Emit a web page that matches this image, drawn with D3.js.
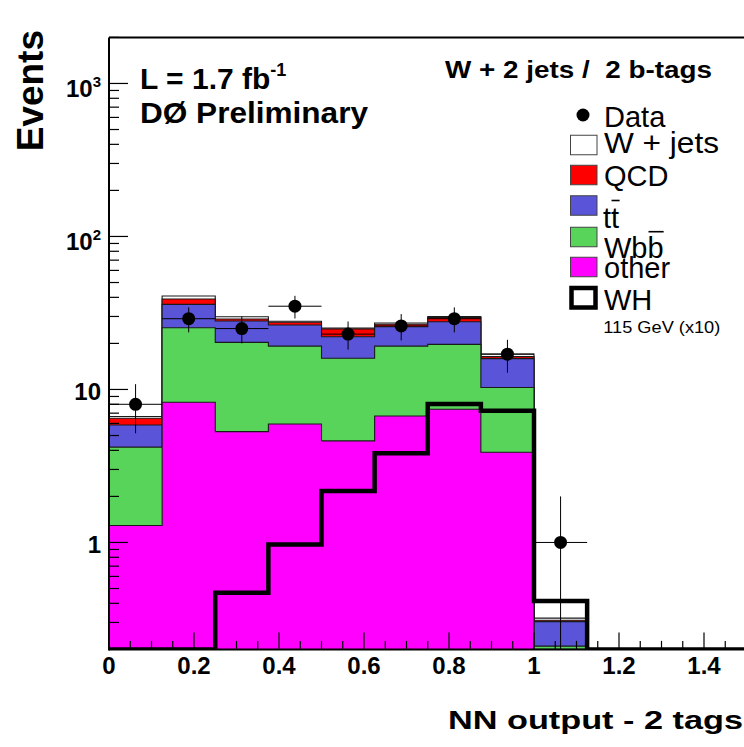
<!DOCTYPE html>
<html>
<head>
<meta charset="utf-8">
<script src="https://cdn.jsdelivr.net/npm/d3@7/dist/d3.min.js"></script>
<style>
html,body{margin:0;padding:0;background:#fff;}
svg{display:block;}
text{font-family:"Liberation Sans",Arial,sans-serif;}
</style>
</head>
<body>
<svg id="chart" width="744" height="747"></svg>
<script>
// ---------------- data ----------------
const binLow   = [0, 0.125, 0.25, 0.375, 0.5, 0.625, 0.75, 0.875, 1.0, 1.125, 1.25, 1.375];
const binWidth = 0.125;
const other = [1.29, 8.25, 5.30, 5.95, 4.61, 6.71, 7.42, 3.89, 0.10, 0, 0, 0];
const wbb   = [2.91, 17.05, 15.0, 13.25, 11.39, 12.49, 12.28, 6.41, 0.11, 0, 0, 0];
const ttbar = [1.66, 10.7, 7.7, 7.2, 6.1, 6.5, 8.0, 5.6, 0.094, 0, 0, 0];
const qcd   = [0.62, 3.0, 0.9, 1.1, 2.8, 1.0, 1.8, 0.5, 0.006, 0, 0, 0];
const wjets = [0.17, 1.8, 1.0, 0.4, 0.3, 0.5, 0.5, 0.66, 0.01, 0, 0, 0];
const dataCounts = [8, 29, 25, 35, 23, 26, 29, 17, 1, 0, 0, 0];
const whSignal = [0, 0, 0.47, 0.97, 2.17, 3.83, 8.04, 7.27, 0.415, 0, 0, 0];
const xTicks = [0, 0.2, 0.4, 0.6, 0.8, 1.0, 1.2, 1.4];
const xTickLabels = ["0", "0.2", "0.4", "0.6", "0.8", "1", "1.2", "1.4"];
const yMajor = [1, 10, 100, 1000];
const yLabelBase = ["1", "10", "10", "10"];
const yLabelExp = ["", "", "2", "3"];
const legendLabels = ["Data", "W + jets", "QCD", "tt", "Wbb", "other", "WH"];
const colors = {wjets:"#ffffff", qcd:"#ff0000", ttbar:"#5954d8", wbb:"#59d45a", other:"#ff00ff"};

// ---------------- layout ----------------
const svg = d3.select("#chart");
const X0 = 109, X1 = 746.5, YT = 37.4, YB = 649.4;
const x = d3.scaleLinear().domain([0, 1.5]).range([X0, X1]);
const y = d3.scaleLog().domain([0.2, 2000]).range([YB, YT]).clamp(true);
const yv = v => y(Math.max(v, 1e-4));

svg.append("defs").append("clipPath").attr("id","plotclip")
  .append("rect").attr("x",X0).attr("y",YT).attr("width",X1-X0).attr("height",YB-YT);

const plot = svg.append("g").attr("clip-path","url(#plotclip)");

const layers = [
  {key:"other", vals:other},
  {key:"wbb", vals:wbb},
  {key:"ttbar", vals:ttbar},
  {key:"qcd", vals:qcd},
  {key:"wjets", vals:wjets}
];
let cum = binLow.map(() => 0);
layers.forEach(L => { cum = cum.map((c,i) => c + L.vals[i]); L.cum = cum.slice(); });

const nFilled = 9;
function stepPts(vals, n){
  const pts = [];
  for (let i = 0; i < n; i++){
    pts.push([binLow[i], vals[i]]);
    pts.push([binLow[i] + binWidth, vals[i]]);
  }
  return pts;
}
const area = d3.area().x(d => x(d[0])).y0(YB).y1(d => yv(d[1]));
const line = d3.line().x(d => x(d[0])).y(d => yv(d[1]));

layers.slice().reverse().forEach(L => {
  const pts = stepPts(L.cum, nFilled);
  plot.append("path").attr("d", area(pts)).attr("fill", colors[L.key]).attr("stroke","none");
  const outline = [[pts[0][0], 0]].concat(pts).concat([[pts[pts.length-1][0], 0]]);
  plot.append("path").attr("d", line(outline)).attr("fill","none")
    .attr("stroke","#1a1a1a").attr("stroke-width",1.1);
});

const whPts = [[0,0]].concat(stepPts(whSignal, binLow.length)).concat([[1.5,0]]);
plot.append("path").attr("d", line(whPts)).attr("fill","none")
  .attr("stroke","#000").attr("stroke-width",4.5).attr("stroke-linejoin","miter");

dataCounts.forEach((n,i) => {
  if (n <= 0) return;
  const cx = x(binLow[i] + binWidth/2);
  const e = Math.sqrt(n);
  plot.append("line").attr("x1",cx).attr("x2",cx).attr("y1",yv(n+e)).attr("y2",yv(n-e))
    .attr("stroke","#000").attr("stroke-width",1);
  plot.append("line").attr("x1",x(binLow[i])).attr("x2",x(binLow[i]+binWidth))
    .attr("y1",y(n)).attr("y2",y(n)).attr("stroke","#000").attr("stroke-width",1);
  plot.append("circle").attr("cx",cx).attr("cy",y(n)).attr("r",6.5).attr("fill","#000");
});

// ---------------- axes ----------------
const ax = svg.append("g");
ax.append("line").attr("x1",X0).attr("x2",X1).attr("y1",YT).attr("y2",YT).attr("stroke","#000").attr("stroke-width",2);
ax.append("line").attr("x1",X1).attr("x2",X1).attr("y1",YT).attr("y2",YB).attr("stroke","#000").attr("stroke-width",2);
ax.append("line").attr("x1",X0).attr("x2",X0).attr("y1",YT).attr("y2",YB+1).attr("stroke","#000").attr("stroke-width",2);
ax.append("line").attr("x1",X0).attr("x2",X1).attr("y1",YB).attr("y2",YB).attr("stroke","#000").attr("stroke-width",2);

const xMinor = d3.range(0, 1.5001, 0.05);
xMinor.forEach(v => {
  const isMajor = Math.abs(v/0.2 - Math.round(v/0.2)) < 1e-6;
  ax.append("line").attr("x1",x(v)).attr("x2",x(v)).attr("y1",YB).attr("y2",YB - (isMajor?17:8.5))
    .attr("stroke","#000").attr("stroke-width",1.2);
});
xTicks.forEach((v,i) => {
  ax.append("text").attr("x",x(v)).attr("y",673.5).attr("text-anchor","middle")
    .attr("font-size",24).attr("font-weight","bold").text(xTickLabels[i]);
});

const yTickVals = y.ticks();
yTickVals.forEach(v => {
  if (v < 0.2 || v > 2000) return;
  const isMajor = yMajor.includes(v);
  ax.append("line").attr("x1",X0).attr("x2",X0 + (isMajor?19:10)).attr("y1",y(v)).attr("y2",y(v))
    .attr("stroke","#000").attr("stroke-width",1.2);
});
yMajor.forEach((v,i) => {
  const t = ax.append("text").attr("font-size",24).attr("font-weight","bold").attr("text-anchor","end");
  if (yLabelExp[i]) {
    t.attr("x",101).attr("y",y(v)+14);
    t.append("tspan").text(yLabelBase[i]);
    t.append("tspan").attr("font-size",15).attr("dy",-10).text(yLabelExp[i]);
  } else {
    t.attr("x",101).attr("y",y(v)+11).text(yLabelBase[i]);
  }
});

svg.append("text").attr("transform","translate(43,30) rotate(-90)").attr("text-anchor","end")
  .attr("font-size",37).attr("font-weight","bold").text("Events");
svg.append("text").attr("x",448).attr("y",729.3).attr("font-size",25).attr("font-weight","bold")
  .attr("textLength",295).attr("lengthAdjust","spacingAndGlyphs").text("NN output - 2 tags");

const lum = svg.append("text").attr("x",140).attr("y",89.3).attr("font-size",30).attr("font-weight","bold");
lum.append("tspan").text("L = 1.7 fb");
lum.append("tspan").attr("font-size",18).attr("dy",-13).text("-1");
svg.append("text").attr("x",140).attr("y",123.3).attr("font-size",30).attr("font-weight","bold")
  .attr("textLength",228).attr("lengthAdjust","spacingAndGlyphs").text("DØ Preliminary");
svg.append("text").attr("x",445).attr("y",78.3).attr("font-size",23).attr("font-weight","bold")
  .attr("textLength",267).attr("lengthAdjust","spacingAndGlyphs").style("white-space","pre")
  .text("W + 2 jets /  2 b-tags");

// ---------------- legend ----------------
const lg = svg.append("g");
const boxX = 570.5, boxW = 26.5, boxH = 19.5;
lg.append("circle").attr("cx",583).attr("cy",115).attr("r",6.5).attr("fill","#000");
const boxEntries = [
  {key:"wjets", cy:145},
  {key:"qcd", cy:175},
  {key:"ttbar", cy:205.5},
  {key:"wbb", cy:237},
  {key:"other", cy:267}
];
boxEntries.forEach(b => {
  lg.append("rect").attr("x",boxX).attr("y",b.cy - boxH/2).attr("width",boxW).attr("height",boxH)
    .attr("fill",colors[b.key]).attr("stroke","#444").attr("stroke-width",1);
});
lg.append("rect").attr("x",571.5).attr("y",288).attr("width",24).attr("height",19.5)
  .attr("fill","none").attr("stroke","#000").attr("stroke-width",4.5);

const txtX = 604, fs = 29;
lg.append("text").attr("x",txtX).attr("y",126.7).attr("font-size",fs).text(legendLabels[0]);
lg.append("text").attr("x",txtX).attr("y",153.3).attr("font-size",fs)
  .attr("textLength",115).attr("lengthAdjust","spacingAndGlyphs").text(legendLabels[1]);
lg.append("text").attr("x",txtX).attr("y",186).attr("font-size",fs).text(legendLabels[2]);

// t tbar with overline over the last glyph
const ttText = lg.append("text").attr("x",603).attr("y",227.5).attr("font-size",29).text(legendLabels[3]);
const ttNode = ttText.node();
const ttN = legendLabels[3].length;
const ttS = ttNode.getStartPositionOfChar(ttN-1).x, ttE = ttNode.getEndPositionOfChar(ttN-1).x;
lg.append("line").attr("x1",ttS+0.5).attr("x2",ttE+0.5).attr("y1",200.5).attr("y2",200.5)
  .attr("stroke","#000").attr("stroke-width",1.6);

const wbText = lg.append("text").attr("x",txtX).attr("y",258.3).attr("font-size",fs).text(legendLabels[4]);
const wbNode = wbText.node();
const wbN = legendLabels[4].length;
const wbS = wbNode.getStartPositionOfChar(wbN-1).x, wbE = wbNode.getEndPositionOfChar(wbN-1).x;
lg.append("line").attr("x1",wbS+1).attr("x2",wbE).attr("y1",231.7).attr("y2",231.7)
  .attr("stroke","#000").attr("stroke-width",1.6);

lg.append("text").attr("x",txtX).attr("y",278.3).attr("font-size",fs).text(legendLabels[5]);
lg.append("text").attr("x",txtX).attr("y",310).attr("font-size",fs).text(legendLabels[6]);
lg.append("text").attr("x",603.3).attr("y",333.3).attr("font-size",17)
  .attr("textLength",117).attr("lengthAdjust","spacingAndGlyphs").text("115 GeV (x10)");
</script>
</body>
</html>
